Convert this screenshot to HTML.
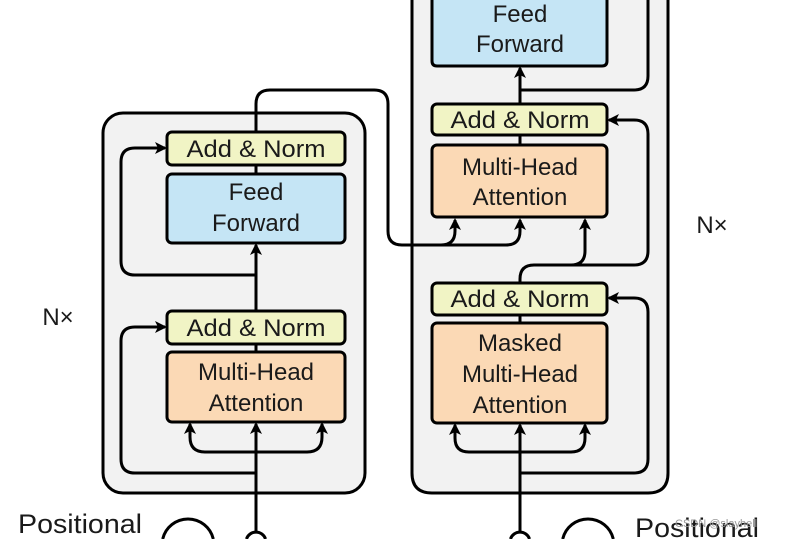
<!DOCTYPE html>
<html><head><style>html,body{margin:0;background:#fff;overflow:hidden;width:787px;height:539px}svg{display:block}</style></head><body>
<svg width="787" height="539" viewBox="0 0 787 539" xmlns="http://www.w3.org/2000/svg" font-family="Liberation Sans, sans-serif">
<defs><marker id="a" markerWidth="14" markerHeight="14" refX="10" refY="6" orient="auto" markerUnits="userSpaceOnUse"><path d="M0,0 L12,6 L0,12 L3,6z" fill="#000"/></marker></defs>
<g stroke="#000" stroke-width="3" fill="none">
<rect x="103" y="113" width="262" height="380" rx="20" fill="#f2f2f2"/>
<path d="M412 0 V473 Q412 493 432 493 H648 Q668 493 668 473 V0" fill="#f2f2f2"/>
<path d="M256 537 V424" marker-end="url(#a)"/>
<path d="M256 452 H205 Q190 452 190 437 V424" marker-end="url(#a)"/>
<path d="M256 452 H307 Q322 452 322 437 V424" marker-end="url(#a)"/>
<path d="M256 473 H135 Q121 473 121 459 V341 Q121 327 135 327 H165" marker-end="url(#a)"/>
<path d="M256 311 V245" marker-end="url(#a)"/>
<path d="M256 275 H135 Q121 275 121 261 V162 Q121 148 135 148 H165" marker-end="url(#a)"/>
<path d="M256 132 V104 Q256 90 270 90 H374 Q388 90 388 104 V231 Q388 245 402 245 H441 Q455 245 455 231 V220" marker-end="url(#a)"/>
<path d="M441 245 H506 Q520 245 520 231 V220" marker-end="url(#a)"/>
<path d="M520 537 V425" marker-end="url(#a)"/>
<path d="M520 452 H469 Q455 452 455 438 V425" marker-end="url(#a)"/>
<path d="M520 452 H571 Q585 452 585 438 V425" marker-end="url(#a)"/>
<path d="M520 473 H634 Q648 473 648 459 V312 Q648 298 634 298 H609" marker-end="url(#a)"/>
<path d="M520 283 V279 Q520 265 534 265 H634 Q648 265 648 251 V134 Q648 120 634 120 H609" marker-end="url(#a)"/>
<path d="M534 265 H571 Q585 265 585 251 V220" marker-end="url(#a)"/>
<path d="M520 104 V68" marker-end="url(#a)"/>
<path d="M520 90 H634 Q648 90 648 76 V0"/>
<rect x="167" y="132" width="178" height="33" rx="5" fill="#f1f4c5"/>
<rect x="167" y="174" width="178" height="69" rx="5" fill="#c5e5f5"/>
<rect x="167" y="311" width="178" height="33" rx="5" fill="#f1f4c5"/>
<rect x="167" y="352" width="178" height="70" rx="5" fill="#fbd9b5"/>
<path d="M256 165 V174 M256 344 V352"/>
<path d="M432 0 V61 Q432 66 437 66 H602 Q607 66 607 61 V0" fill="#c5e5f5"/>
<rect x="432" y="104" width="175" height="31" rx="5" fill="#f1f4c5"/>
<rect x="432" y="145" width="175" height="72" rx="5" fill="#fbd9b5"/>
<rect x="432" y="283" width="175" height="32" rx="5" fill="#f1f4c5"/>
<rect x="432" y="323" width="175" height="100" rx="5" fill="#fbd9b5"/>
<path d="M520 135 V145 M520 315 V323"/>
<path d="M246.5 539 A10 10 0 0 1 265.5 539" fill="#fff"/>
<path d="M510.5 539 A10 10 0 0 1 529.5 539" fill="#fff"/>
<path d="M162.7 539 A26 26 0 0 1 213.3 539"/>
<path d="M562.7 539 A26 26 0 0 1 613.3 539"/>
</g>
<g font-size="24" fill="#1a1a1a" text-anchor="middle">
<text x="256" y="157" textLength="139" lengthAdjust="spacingAndGlyphs">Add &amp; Norm</text>
<text x="256" y="200">Feed</text><text x="256" y="231">Forward</text>
<text x="256" y="336" textLength="139" lengthAdjust="spacingAndGlyphs">Add &amp; Norm</text>
<text x="256" y="380">Multi-Head</text><text x="256" y="411">Attention</text>
<text x="520" y="22">Feed</text><text x="520" y="52">Forward</text>
<text x="520" y="128" textLength="139" lengthAdjust="spacingAndGlyphs">Add &amp; Norm</text>
<text x="520" y="175">Multi-Head</text><text x="520" y="205">Attention</text>
<text x="520" y="307" textLength="139" lengthAdjust="spacingAndGlyphs">Add &amp; Norm</text>
<text x="520" y="351">Masked</text><text x="520" y="382">Multi-Head</text><text x="520" y="413">Attention</text>
<text x="58" y="325">N×</text><text x="712" y="233">N×</text>
</g>
<text x="18" y="533" font-size="27" fill="#1a1a1a" textLength="124" lengthAdjust="spacingAndGlyphs">Positional</text>
<text x="635" y="537" font-size="27" fill="#1a1a1a" textLength="124" lengthAdjust="spacingAndGlyphs">Positional</text>
<text x="675" y="527" font-size="11" fill="#999">CSDN @slayhell</text>
</svg>
</body></html>
